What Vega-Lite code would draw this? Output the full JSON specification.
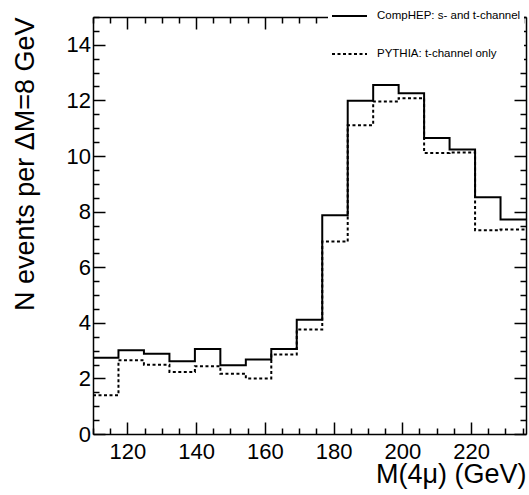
{
  "$schema": "https://vega.github.io/schema/vega-lite/v6.json",
  "width": 433,
  "height": 417,
  "autosize": {"type": "none"},
  "padding": {"left": 93, "top": 17, "right": 3, "bottom": 61},
  "background": "white",
  "config": {
    "view": {"stroke": null},
    "font": "Liberation Sans",
    "axis": {
      "grid": false,
      "domainColor": "black",
      "domainWidth": 1.5,
      "tickColor": "black",
      "tickWidth": 1.5,
      "tickSize": 10,
      "labelColor": "black",
      "labelFont": "Liberation Sans",
      "labelFontSize": 22,
      "labelOverlap": false,
      "labelFlush": false,
      "titleFont": "Liberation Sans",
      "titleFontSize": 27,
      "titleFontWeight": "normal",
      "titleColor": "black"
    }
  },
  "datasets": {
    "hist": [
      {"m": 110, "n": 2.74, "s": "CompHEP: s- and t-channel"},
      {"m": 117.41, "n": 3.01, "s": "CompHEP: s- and t-channel"},
      {"m": 124.82, "n": 2.89, "s": "CompHEP: s- and t-channel"},
      {"m": 132.24, "n": 2.62, "s": "CompHEP: s- and t-channel"},
      {"m": 139.65, "n": 3.06, "s": "CompHEP: s- and t-channel"},
      {"m": 147.06, "n": 2.47, "s": "CompHEP: s- and t-channel"},
      {"m": 154.47, "n": 2.68, "s": "CompHEP: s- and t-channel"},
      {"m": 161.88, "n": 3.06, "s": "CompHEP: s- and t-channel"},
      {"m": 169.29, "n": 4.11, "s": "CompHEP: s- and t-channel"},
      {"m": 176.71, "n": 7.87, "s": "CompHEP: s- and t-channel"},
      {"m": 184.12, "n": 11.99, "s": "CompHEP: s- and t-channel"},
      {"m": 191.53, "n": 12.55, "s": "CompHEP: s- and t-channel"},
      {"m": 198.94, "n": 12.26, "s": "CompHEP: s- and t-channel"},
      {"m": 206.35, "n": 10.65, "s": "CompHEP: s- and t-channel"},
      {"m": 213.76, "n": 10.23, "s": "CompHEP: s- and t-channel"},
      {"m": 221.18, "n": 8.52, "s": "CompHEP: s- and t-channel"},
      {"m": 228.59, "n": 7.72, "s": "CompHEP: s- and t-channel"},
      {"m": 236, "n": 7.72, "s": "CompHEP: s- and t-channel"},
      {"m": 110, "n": 1.39, "s": "PYTHIA: t-channel only"},
      {"m": 117.41, "n": 2.65, "s": "PYTHIA: t-channel only"},
      {"m": 124.82, "n": 2.49, "s": "PYTHIA: t-channel only"},
      {"m": 132.24, "n": 2.23, "s": "PYTHIA: t-channel only"},
      {"m": 139.65, "n": 2.44, "s": "PYTHIA: t-channel only"},
      {"m": 147.06, "n": 2.17, "s": "PYTHIA: t-channel only"},
      {"m": 154.47, "n": 2.0, "s": "PYTHIA: t-channel only"},
      {"m": 161.88, "n": 2.86, "s": "PYTHIA: t-channel only"},
      {"m": 169.29, "n": 3.76, "s": "PYTHIA: t-channel only"},
      {"m": 176.71, "n": 6.92, "s": "PYTHIA: t-channel only"},
      {"m": 184.12, "n": 11.11, "s": "PYTHIA: t-channel only"},
      {"m": 191.53, "n": 11.96, "s": "PYTHIA: t-channel only"},
      {"m": 198.94, "n": 12.08, "s": "PYTHIA: t-channel only"},
      {"m": 206.35, "n": 10.11, "s": "PYTHIA: t-channel only"},
      {"m": 213.76, "n": 10.13, "s": "PYTHIA: t-channel only"},
      {"m": 221.18, "n": 7.33, "s": "PYTHIA: t-channel only"},
      {"m": 228.59, "n": 7.36, "s": "PYTHIA: t-channel only"},
      {"m": 236, "n": 7.36, "s": "PYTHIA: t-channel only"}
    ]
  },
  "data": {"name": "hist"},
  "layer": [
    {
      "transform": [{"filter": "datum.s === 'CompHEP: s- and t-channel'"}],
      "mark": {"type": "line", "interpolate": "step-after", "strokeWidth": 2, "color": "black"},
      "encoding": {
        "x": {
          "field": "m", "type": "quantitative",
          "scale": {"domain": [110, 236], "nice": false, "zero": false},
          "axis": {
            "orient": "bottom",
            "values": [120, 140, 160, 180, 200, 220],
            "format": "d",
            "tickSize": -12,
            "tickColor": "black",
            "labelPadding": 19.5,
            "title": "M(4μ) (GeV)",
            "titleAnchor": "end",
            "titlePadding": -1
          }
        },
        "y": {
          "field": "n", "type": "quantitative",
          "scale": {"domain": [0, 15], "nice": false},
          "axis": {
            "orient": "left",
            "values": [0, 2, 4, 6, 8, 10, 12, 14],
            "format": "d",
            "tickSize": -12,
            "tickColor": "black",
            "labelPadding": 14.5,
            "title": "N events per ΔM=8 GeV",
            "titleAnchor": "end",
            "titlePadding": 27
          }
        },
        "strokeDash": {
          "field": "s", "type": "nominal",
          "scale": {"domain": ["CompHEP: s- and t-channel", "PYTHIA: t-channel only"], "range": [[1, 0], [3, 2.5]]},
          "legend": {
            "orient": "none",
            "legendX": 235,
            "legendY": -22.5,
            "title": null,
            "fillColor": "white",
            "padding": 3,
            "symbolType": "stroke",
            "symbolSize": 1225,
            "symbolStrokeWidth": 2,
            "symbolStrokeColor": "black",
            "labelFontSize": 11.5,
            "labelFont": "Liberation Sans",
            "labelColor": "black",
            "rowPadding": 14,
            "labelOffset": 9
          }
        }
      }
    },
    {
      "transform": [{"filter": "datum.s === 'PYTHIA: t-channel only'"}],
      "mark": {"type": "line", "interpolate": "step-after", "strokeWidth": 2, "color": "black"},
      "encoding": {
        "x": {
          "field": "m", "type": "quantitative",
          "scale": {"domain": [110, 236], "nice": false, "zero": false},
          "axis": {"orient": "top", "values": [120, 140, 160, 180, 200, 220], "tickSize": -12, "tickColor": "black", "labels": false, "title": null}
        },
        "y": {
          "field": "n", "type": "quantitative",
          "scale": {"domain": [0, 15], "nice": false},
          "axis": {"orient": "right", "values": [0, 2, 4, 6, 8, 10, 12, 14], "tickSize": -12, "tickColor": "black", "labels": false, "title": null}
        },
        "strokeDash": {
          "field": "s", "type": "nominal",
          "scale": {"domain": ["CompHEP: s- and t-channel", "PYTHIA: t-channel only"], "range": [[1, 0], [3, 2.5]]}
        }
      }
    },
    {
      "transform": [{"filter": "datum.s === 'CompHEP: s- and t-channel'"}],
      "mark": {"type": "line", "interpolate": "step-after", "strokeWidth": 2, "color": "black", "opacity": 0},
      "encoding": {
        "x": {
          "field": "m", "type": "quantitative",
          "scale": {"domain": [110, 236], "nice": false, "zero": false},
          "axis": {"orient": "bottom", "values": [110,115,125,130,135,145,150,155,165,170,175,185,190,195,205,210,215,225,230,235], "tickSize": -6, "tickColor": "black", "labels": false, "domain": false, "title": null}
        },
        "y": {
          "field": "n", "type": "quantitative",
          "scale": {"domain": [0, 15], "nice": false},
          "axis": {"orient": "left", "values": [0.5,1,1.5,2.5,3,3.5,4.5,5,5.5,6.5,7,7.5,8.5,9,9.5,10.5,11,11.5,12.5,13,13.5,14.5,15], "tickSize": -6, "tickColor": "black", "labels": false, "domain": false, "title": null}
        }
      }
    },
    {
      "transform": [{"filter": "datum.s === 'PYTHIA: t-channel only'"}],
      "mark": {"type": "line", "interpolate": "step-after", "strokeWidth": 2, "color": "black", "opacity": 0},
      "encoding": {
        "x": {
          "field": "m", "type": "quantitative",
          "scale": {"domain": [110, 236], "nice": false, "zero": false},
          "axis": {"orient": "top", "values": [110,115,125,130,135,145,150,155,165,170,175,185,190,195,205,210,215,225,230,235], "tickSize": -6, "tickColor": "black", "labels": false, "domain": false, "title": null}
        },
        "y": {
          "field": "n", "type": "quantitative",
          "scale": {"domain": [0, 15], "nice": false},
          "axis": {"orient": "right", "values": [0.5,1,1.5,2.5,3,3.5,4.5,5,5.5,6.5,7,7.5,8.5,9,9.5,10.5,11,11.5,12.5,13,13.5,14.5,15], "tickSize": -6, "tickColor": "black", "labels": false, "domain": false, "title": null}
        }
      }
    }
  ],
  "resolve": {"axis": {"x": "independent", "y": "independent"}}
}
